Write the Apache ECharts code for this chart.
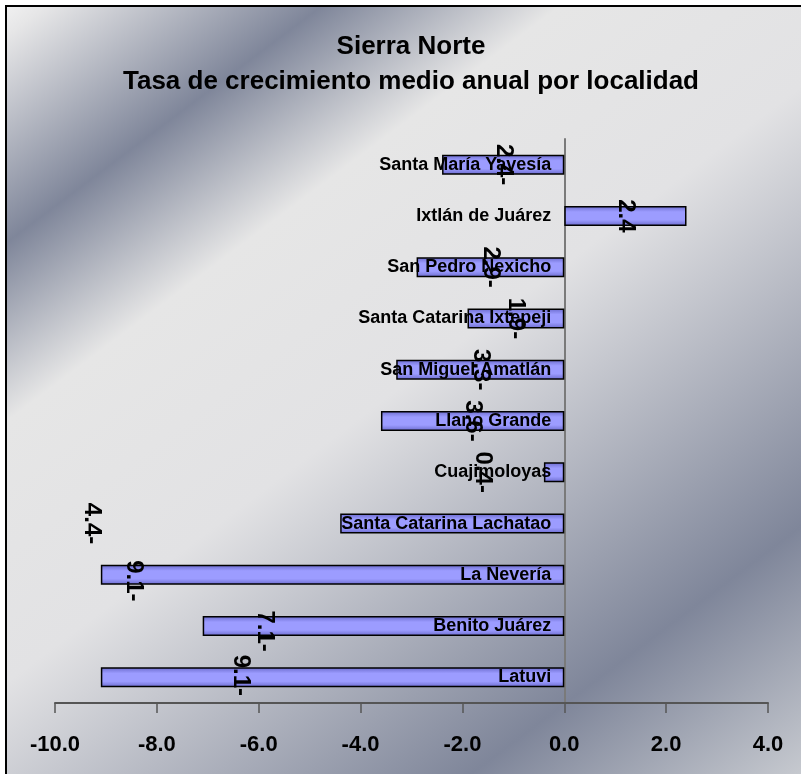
<!DOCTYPE html>
<html>
<head>
<meta charset="utf-8">
<script src="https://cdn.jsdelivr.net/npm/echarts@6/dist/echarts.min.js"></script>
<style>
html,body{margin:0;padding:0;background:#fff;}
#chart{width:801px;height:774px;}
</style>
</head>
<body>
<div id="chart"></div>
<script>
var titleLine1 = 'Sierra Norte';
var titleLine2 = 'Tasa de crecimiento medio anual por localidad';
var categories = ['Santa María Yavesía','Ixtlán de Juárez','San Pedro Nexicho','Santa Catarina Ixtepeji','San Miguel Amatlán','Llano Grande','Cuajimoloyas','Santa Catarina Lachatao','La Nevería','Benito Juárez','Latuvi'];
var growthRate = [-2.4, 2.4, -2.9, -1.9, -3.3, -3.6, -0.4, -4.4, -9.1, -7.1, -9.1];
var xTicks = [-10, -8, -6, -4, -2, 0, 2, 4];

// manual label displacement (screen px) as in the original chart
var labelShift = {
  'Cuajimoloyas': [-71, 0],
  'Santa Catarina Lachatao': [-361, 0],
  'La Nevería': [-199, 6],
  'Benito Juárez': [-119, 5],
  'Latuvi': [-92, -2]
};

var FONT = '"Liberation Sans", Arial, sans-serif';
var chart = echarts.init(document.getElementById('chart'));

var barFill = new echarts.graphic.LinearGradient(0, 0, 0, 1, [
  {offset: 0, color: '#6a6acc'},
  {offset: 0.3, color: '#9c9cff'},
  {offset: 0.7, color: '#9c9cff'},
  {offset: 1, color: '#6a6acc'}
]);

var seriesData = growthRate.map(function (v, i) {
  var item = {value: v};
  var s = labelShift[categories[i]];
  if (s) {
    // label is rotated -90deg; offset is applied in the rotated frame
    item.label = {offset: [s[1], -s[0]]};
  }
  return item;
});

// category names drawn at the zero baseline
var nameData = categories.map(function (c) { return [0, c]; });

var bgFill = new echarts.graphic.LinearGradient(0, 0, 660, 880, [
  {offset: 0, color: '#f4f4f4'},
  {offset: 0.03, color: '#e6e6e7'},
  {offset: 0.18, color: '#7f869a'},
  {offset: 0.31, color: '#e6e6e6'},
  {offset: 0.50, color: '#e2e2e4'},
  {offset: 0.82, color: '#7f869a'},
  {offset: 1, color: '#c6c9cf'}
], true);

var option = {
  animation: false,
  textStyle: {fontFamily: FONT},
  graphic: [
    {
      type: 'rect', z: -10, silent: true,
      shape: {x: 6, y: 6, width: 820, height: 800},
      style: {fill: bgFill, stroke: '#000', lineWidth: 2}
    },
    {
      type: 'text', z: 10, x: 411, y: 47,
      style: {text: titleLine1, font: 'bold 26px ' + FONT, fill: '#000', textAlign: 'center', textVerticalAlign: 'middle'}
    },
    {
      type: 'text', z: 10, x: 411, y: 82,
      style: {text: titleLine2, font: 'bold 26px ' + FONT, fill: '#000', textAlign: 'center', textVerticalAlign: 'middle'}
    }
  ],
  grid: {left: 55, right: 33, top: 139, bottom: 71, containLabel: false, outerBoundsMode: 'none'},
  xAxis: {
    type: 'value', min: -10, max: 4, interval: 2,
    axisLine: {show: true, lineStyle: {color: '#555', width: 2}},
    axisTick: {show: true, length: 10, lineStyle: {color: '#555', width: 1.5}},
    splitLine: {show: false},
    axisLabel: {
      margin: 31, fontSize: 22, fontWeight: 'bold', color: '#000', fontFamily: FONT,
      formatter: function (v) { return v.toFixed(1); }
    }
  },
  yAxis: {
    type: 'category', data: categories, inverse: true,
    axisLine: {show: true, onZero: true, lineStyle: {color: '#7a7a7a', width: 2}},
    axisTick: {show: false},
    splitLine: {show: false},
    axisLabel: {show: false}
  },
  series: [{
    type: 'bar',
    data: seriesData,
    barWidth: 20,
    itemStyle: {color: barFill, borderColor: '#000', borderWidth: 1.5},
    label: {
      show: true, position: 'inside', rotate: -90,
      fontSize: 24, fontWeight: 'bold', color: '#000', fontFamily: FONT,
      formatter: function (p) {
        var v = p.value;
        return v < 0 ? Math.abs(v).toFixed(1) + '-' : v.toFixed(1);
      }
    },
    z: 2
  }, {
    type: 'scatter',
    data: nameData,
    symbolSize: 0,
    silent: true,
    z: 3,
    itemStyle: {opacity: 1},
    label: {
      show: true, position: 'left', distance: 13, opacity: 1,
      fontSize: 18, fontWeight: 'bold', color: '#000', fontFamily: FONT,
      formatter: function (p) { return p.value[1]; }
    }
  }]
};
chart.setOption(option);
</script>
</body>
</html>
